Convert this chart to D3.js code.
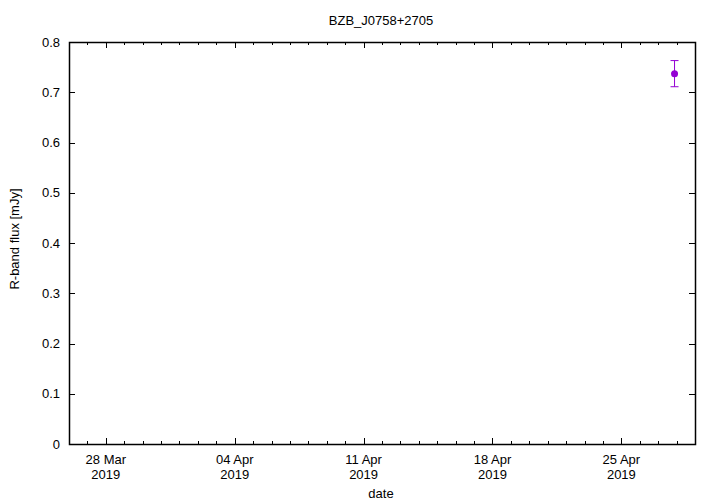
<!DOCTYPE html>
<html>
<head>
<meta charset="utf-8">
<script src="https://cdn.jsdelivr.net/npm/d3@7"></script>
<style>
body { margin: 0; background: #fff; }
text { font-family: "Liberation Sans", Arial, sans-serif; font-size: 13px; fill: #000; }
</style>
</head>
<body>
<div id="chart"></div>
<script>
// data
var title = "BZB_J0758+2705";
var obsDates = ["2019-04-27T21:20:00"];
var fluxVals = [0.737];
var fluxErrs = [0.026];
var yTicks = [0, 0.1, 0.2, 0.3, 0.4, 0.5, 0.6, 0.7, 0.8];
var xTickDates = ["2019-03-28", "2019-04-04", "2019-04-11", "2019-04-18", "2019-04-25"];

var W = 720, H = 504;
var margin = {top: 42, right: 25, bottom: 60, left: 69};
var width = W - margin.left - margin.right, height = H - margin.top - margin.bottom;

var parse = d3.isoParse;
var xScale = d3.scaleTime()
    .domain([new Date(2019, 2, 26), new Date(2019, 3, 29)])
    .range([0, width]);
var yScale = d3.scaleLinear()
    .domain([0, 0.8])
    .range([height, 0]);

var svg = d3.select("#chart").append("svg")
    .attr("width", W).attr("height", H);
var g = svg.append("g")
    .attr("transform", "translate(" + margin.left + "," + margin.top + ")");

var majorX = xTickDates.map(function(d) { return new Date(d + "T00:00:00"); });
var minorX = d3.timeDay.range(xScale.domain()[0], d3.timeDay.offset(xScale.domain()[1], 1))
    .filter(function(d) { return d > xScale.domain()[0] && d < xScale.domain()[1]; });

var ticks = g.append("g").attr("stroke", "#000").attr("stroke-width", 1);
// minor x ticks (bottom and top, inward)
minorX.forEach(function(d) {
  var x = Math.round(xScale(d)) + 0.5;
  ticks.append("line").attr("x1", x).attr("x2", x).attr("y1", height).attr("y2", height - 3);
  ticks.append("line").attr("x1", x).attr("x2", x).attr("y1", 0).attr("y2", 3);
});
majorX.forEach(function(d) {
  var x = Math.round(xScale(d)) + 0.5;
  ticks.append("line").attr("x1", x).attr("x2", x).attr("y1", height).attr("y2", height - 6);
  ticks.append("line").attr("x1", x).attr("x2", x).attr("y1", 0).attr("y2", 6);
});
yTicks.forEach(function(v) {
  var y = Math.round(yScale(v)) + 0.5;
  ticks.append("line").attr("x1", 0).attr("x2", 6).attr("y1", y).attr("y2", y);
  ticks.append("line").attr("x1", width).attr("x2", width - 6).attr("y1", y).attr("y2", y);
});

// frame
g.append("rect").attr("x", 0.5).attr("y", 0.5)
  .attr("width", width).attr("height", height)
  .attr("fill", "none").attr("stroke", "#000").attr("stroke-width", 1.5);

// y tick labels
g.selectAll(".ylab").data(yTicks).enter().append("text")
  .attr("x", -9).attr("y", function(d) { return yScale(d); })
  .attr("dy", "0.35em").attr("text-anchor", "end")
  .text(function(d) { return d === 0 ? "0" : d3.format(".1f")(d); });

// x tick labels
var fmt = d3.timeFormat("%d %b");
var xl = g.selectAll(".xlab").data(majorX).enter().append("text")
  .attr("text-anchor", "middle")
  .attr("transform", function(d) { return "translate(" + xScale(d) + "," + (height + 20) + ")"; });
xl.append("tspan").attr("x", 0).attr("y", 0).text(function(d) { return fmt(d); });
xl.append("tspan").attr("x", 0).attr("y", 15).text(function(d) { return d.getFullYear(); });

// titles
svg.append("text").attr("x", 381).attr("y", 25).attr("text-anchor", "middle").text(title);
svg.append("text").attr("x", 381).attr("y", 498).attr("text-anchor", "middle").text("date");
svg.append("text").attr("text-anchor", "middle")
  .attr("transform", "translate(19,239) rotate(-90)")
  .text("R-band flux [mJy]");

// data points with error bars
var pts = obsDates.map(function(d, i) { return {t: parse(d), v: fluxVals[i], e: fluxErrs[i]}; });
var col = "#9400d3";
var pg = g.append("g").attr("stroke", col).attr("fill", col);
pts.forEach(function(p) {
  var x = xScale(p.t);
  pg.append("line").attr("x1", x).attr("x2", x)
    .attr("y1", yScale(p.v - p.e)).attr("y2", yScale(p.v + p.e));
  [p.v - p.e, p.v + p.e].forEach(function(v) {
    pg.append("line").attr("x1", x - 4).attr("x2", x + 4)
      .attr("y1", yScale(v)).attr("y2", yScale(v));
  });
  pg.append("circle").attr("cx", x).attr("cy", yScale(p.v)).attr("r", 3.5).attr("stroke", "none");
});
</script>
</body>
</html>
